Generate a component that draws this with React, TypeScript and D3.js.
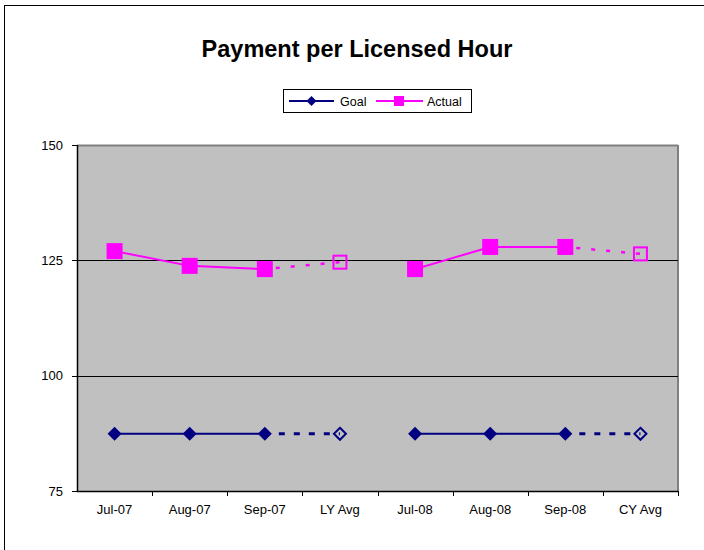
import React from "react";
import * as d3 from "d3";

const categories = ["Jul-07", "Aug-07", "Sep-07", "LY Avg", "Jul-08", "Aug-08", "Sep-08", "CY Avg"];
const goalValues = [87.4, 87.4, 87.4, 87.4, 87.4, 87.4, 87.4, 87.4];
const actualValues = [127.0, 123.8, 123.1, 124.6, 123.1, 127.9, 127.9, 126.4];
const yTicks = [75, 100, 125, 150];
const avgIndices = [3, 7];

const W = 704, H = 550;
const plot = { left: 77, right: 678, top: 145, bottom: 491 };
const FONT = "Arial, 'Liberation Sans', sans-serif";
const GOAL = "#000080";
const ACTUAL = "#FF00FF";

export default function App() {
  const x = d3.scaleBand<string>().domain(categories).range([plot.left, plot.right]).padding(0);
  const y = d3.scaleLinear().domain([75, 150]).range([plot.bottom, plot.top]);
  const cx = (i: number) => (x(categories[i]) as number) + x.bandwidth() / 2;
  const line = d3.line<[number, number]>().x((d) => d[0]).y((d) => d[1]);

  const segs = (vals: number[]) => {
    const solid: [number, number][][] = [];
    const dashed: [number, number][][] = [];
    [[0, 1, 2, 3], [4, 5, 6, 7]].forEach((grp) => {
      solid.push(grp.slice(0, 3).map((i) => [cx(i), y(vals[i])] as [number, number]));
      dashed.push(grp.slice(2, 4).map((i) => [cx(i), y(vals[i])] as [number, number]));
    });
    return { solid, dashed };
  };
  const g = segs(goalValues);
  const a = segs(actualValues);

  const diamond = (px: number, py: number, r: number) =>
    `M${px},${py - r}L${px + r},${py}L${px},${py + r}L${px - r},${py}Z`;

  return (
    <svg width={W} height={H} style={{ position: "absolute", left: 0, top: 0 }}>
      <rect x={0} y={0} width={W} height={H} fill="#fff" />
      <rect x={4.5} y={5.5} width={W + 10} height={H + 10} fill="none" stroke="#000" strokeWidth={1} />
      <text x={357} y={57} textAnchor="middle" fontFamily={FONT} fontWeight="bold" fontSize={23.5}>
        Payment per Licensed Hour
      </text>
      {/* legend */}
      <rect x={283.5} y={89.5} width={188} height={23} fill="#fff" stroke="#000" strokeWidth={1} />
      <line x1={289} x2={334} y1={101} y2={101} stroke={GOAL} strokeWidth={2} />
      <path d={diamond(311.5, 101, 5)} fill={GOAL} />
      <text x={340} y={105.5} fontFamily={FONT} fontSize={12.5}>Goal</text>
      <line x1={376} x2={423} y1={101} y2={101} stroke={ACTUAL} strokeWidth={2} />
      <rect x={394} y={96} width={10} height={10} fill={ACTUAL} />
      <text x={427} y={105.5} fontFamily={FONT} fontSize={12.5}>Actual</text>

      {/* plot area */}
      <rect x={plot.left} y={plot.top} width={plot.right - plot.left} height={plot.bottom - plot.top} fill="#C0C0C0" />
      <line x1={plot.left} x2={plot.right} y1={plot.top + 0.5} y2={plot.top + 0.5} stroke="#808080" strokeWidth={2} />
      <line x1={plot.right} x2={plot.right} y1={plot.top} y2={plot.bottom} stroke="#808080" strokeWidth={2} />
      {yTicks.filter((t) => t !== 75 && t !== 150).map((t) => (
        <line key={t} x1={plot.left} x2={plot.right} y1={Math.round(y(t)) + 0.5} y2={Math.round(y(t)) + 0.5} stroke="#000" strokeWidth={1} />
      ))}
      {/* axes */}
      <line x1={plot.left + 0.5} x2={plot.left + 0.5} y1={plot.top} y2={plot.bottom} stroke="#000" strokeWidth={1.5} />
      <line x1={plot.left} x2={plot.right} y1={plot.bottom + 0.5} y2={plot.bottom + 0.5} stroke="#000" strokeWidth={1.5} />
      {yTicks.map((t) => (
        <g key={t}>
          <line x1={plot.left - 5} x2={plot.left} y1={Math.round(y(t)) + 0.5} y2={Math.round(y(t)) + 0.5} stroke="#000" />
          <text x={plot.left - 14} y={y(t) + 4.5} textAnchor="end" fontFamily={FONT} fontSize={13}>{t}</text>
        </g>
      ))}
      {categories.map((c, i) => (
        <g key={c}>
          <line x1={Math.round((x(c) as number) + x.bandwidth()) + 0.5} x2={Math.round((x(c) as number) + x.bandwidth()) + 0.5} y1={plot.bottom} y2={plot.bottom + 5} stroke="#000" />
          <text x={cx(i)} y={plot.bottom + 23} textAnchor="middle" fontFamily={FONT} fontSize={13}>{c}</text>
        </g>
      ))}

      {/* actual */}
      {a.solid.map((s, k) => (
        <path key={"as" + k} d={line(s) as string} fill="none" stroke={ACTUAL} strokeWidth={2} />
      ))}
      {a.dashed.map((s, k) => (
        <path key={"ad" + k} d={line(s) as string} fill="none" stroke={ACTUAL} strokeWidth={2.5} strokeDasharray="4 11" strokeDashoffset={-11} />
      ))}
      {actualValues.map((v, i) =>
        avgIndices.includes(i) ? (
          <rect key={"am" + i} x={cx(i) - 6.5} y={y(v) - 6.5} width={13} height={13} fill="none" stroke={ACTUAL} strokeWidth={2} />
        ) : (
          <rect key={"am" + i} x={cx(i) - 8} y={y(v) - 8} width={16} height={16} fill={ACTUAL} />
        )
      )}

      {/* goal */}
      {g.solid.map((s, k) => (
        <path key={"gs" + k} d={line(s) as string} fill="none" stroke={GOAL} strokeWidth={2} />
      ))}
      {g.dashed.map((s, k) => (
        <path key={"gd" + k} d={line(s) as string} fill="none" stroke={GOAL} strokeWidth={3} strokeDasharray="6 9" strokeDashoffset={-14} />
      ))}
      {goalValues.map((v, i) =>
        avgIndices.includes(i) ? (
          <path key={"gm" + i} d={diamond(cx(i), y(v), 6)} fill="none" stroke={GOAL} strokeWidth={2} />
        ) : (
          <path key={"gm" + i} d={diamond(cx(i), y(v), 7)} fill={GOAL} />
        )
      )}
    </svg>
  );
}
